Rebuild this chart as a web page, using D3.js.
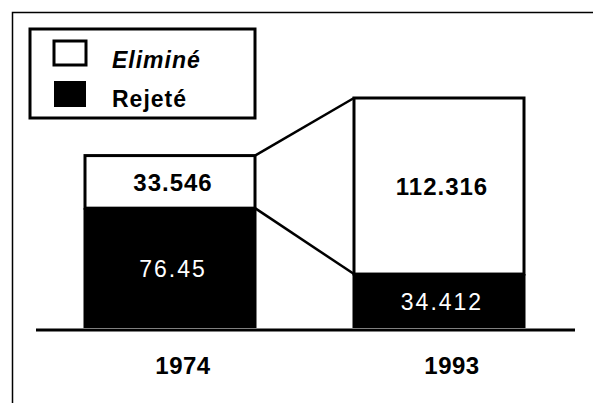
<!DOCTYPE html>
<html>
<head>
<meta charset="utf-8">
<script src="https://cdn.jsdelivr.net/npm/d3@7"></script>
<style>
  body { margin: 0; background: #fff; }
  svg { display: block; font-family: "Liberation Sans", Arial, sans-serif; }
</style>
</head>
<body>
<svg id="chart" width="593" height="403"></svg>
<script>
// data
const years = ['1974', '1993'];
const rejete = [76.45, 34.412];
const elimine = [33.546, 112.316];
const rejeteLabels = ['76.45', '34.412'];
const elimineLabels = ['33.546', '112.316'];
const legendNames = ['Eliminé', 'Rejeté'];

const svg = d3.select('#chart');

const x = d3.scaleBand().domain(years).range([85, 524]).paddingInner(0.368).paddingOuter(0);
const y = d3.scaleLinear().domain([0, d3.max(years, (d, i) => rejete[i] + elimine[i])]).range([328, 98]);

// outer frame (top and left only)
svg.append('path')
    .attr('d', 'M12.5,403 V12.5 H593')
    .attr('fill', 'none')
    .attr('stroke', '#000')
    .attr('stroke-width', 1.5);

const rows = years.map((d, i) => ({year: d, rej: rejete[i], eli: elimine[i], rejLab: rejeteLabels[i], eliLab: elimineLabels[i]}));

// connecting lines between the two columns
const a = rows[0], b = rows[1];
const x1 = x(a.year) + x.bandwidth(), x2 = x(b.year);
[[y(a.rej + a.eli), y(b.rej + b.eli)], [y(a.rej), y(b.rej)]].forEach(p => {
    svg.append('line')
        .attr('x1', x1).attr('y1', p[0])
        .attr('x2', x2).attr('y2', p[1])
        .attr('stroke', '#000')
        .attr('stroke-width', 2.5);
});

const bars = svg.append('g').selectAll('g').data(rows).enter().append('g');

bars.append('rect')
    .attr('x', d => x(d.year))
    .attr('y', d => y(d.rej + d.eli))
    .attr('width', x.bandwidth())
    .attr('height', d => y(d.rej) - y(d.rej + d.eli))
    .attr('fill', '#fff')
    .attr('stroke', '#000')
    .attr('stroke-width', 3);

bars.append('rect')
    .attr('x', d => x(d.year) - 1.5)
    .attr('y', d => y(d.rej))
    .attr('width', x.bandwidth() + 3)
    .attr('height', d => y(0) - y(d.rej))
    .attr('fill', '#000');

bars.append('text')
    .attr('x', d => x(d.year) + x.bandwidth() / 2 + 3)
    .attr('y', d => (y(d.rej) + y(d.rej + d.eli)) / 2 + 9)
    .attr('text-anchor', 'middle')
    .attr('font-size', 24)
    .attr('font-weight', 'bold')
    .attr('letter-spacing', 1)
    .text(d => d.eliLab);

bars.append('text')
    .attr('x', d => x(d.year) + x.bandwidth() / 2 + 3)
    .attr('y', d => (y(0) + y(d.rej)) / 2 + 9)
    .attr('text-anchor', 'middle')
    .attr('font-size', 23)
    .attr('fill', '#fff')
    .attr('letter-spacing', 2)
    .text(d => d.rejLab);

// baseline
svg.append('line')
    .attr('x1', 36).attr('x2', 575)
    .attr('y1', 330).attr('y2', 330)
    .attr('stroke', '#000')
    .attr('stroke-width', 3);

// year labels
svg.append('g').selectAll('text').data(years).enter().append('text')
    .attr('x', d => x(d) + x.bandwidth() / 2 + 13)
    .attr('y', 374)
    .attr('text-anchor', 'middle')
    .attr('font-size', 24)
    .attr('font-weight', 'bold')
    .attr('letter-spacing', 0.5)
    .text(d => d);

// legend
const legend = svg.append('g');
legend.append('rect')
    .attr('x', 30).attr('y', 29)
    .attr('width', 225).attr('height', 89)
    .attr('fill', '#fff')
    .attr('stroke', '#000')
    .attr('stroke-width', 3);

legend.selectAll('rect.sw').data(legendNames).enter().append('rect')
    .attr('class', 'sw')
    .attr('x', 54).attr('y', (d, i) => 41 + i * 40)
    .attr('width', 32).attr('height', (d, i) => i ? 26 : 24)
    .attr('fill', (d, i) => i ? '#000' : '#fff')
    .attr('stroke', '#000')
    .attr('stroke-width', (d, i) => i ? 0 : 3);

legend.selectAll('text').data(legendNames).enter().append('text')
    .attr('x', 112)
    .attr('y', (d, i) => 68 + i * 39)
    .attr('font-size', 23)
    .attr('font-weight', 'bold')
    .attr('font-style', (d, i) => i ? 'normal' : 'italic')
    .attr('letter-spacing', 1)
    .text(d => d);
</script>
</body>
</html>
